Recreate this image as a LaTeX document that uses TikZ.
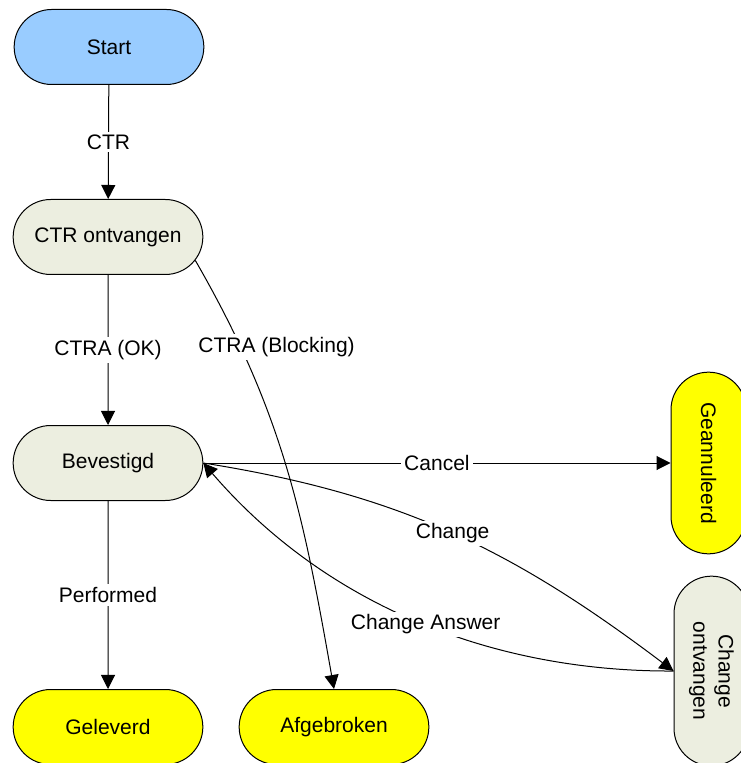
\documentclass[tikz,border=0pt]{standalone}
\usepackage{fontspec}
\setmainfont{Liberation Sans}
\usepackage{tikz}
\usetikzlibrary{shapes.misc,arrows.meta}
\definecolor{startblue}{HTML}{99CCFF}
\definecolor{stategrey}{HTML}{ECEEE0}
\definecolor{endyellow}{HTML}{FFFF00}

\begin{document}
\begin{tikzpicture}[x=0.5pt,y=-0.5pt,
  every node/.style={font=\fontsize{10.5}{12.6}\selectfont},
  state/.style={draw=black, line width=0.5pt, rounded rectangle, minimum width=101.5pt, minimum height=37.5pt, fill=stategrey, align=center},
  endstate/.style={state, fill=endyellow},
  lbl/.style={fill=white, inner sep=1.5pt},
  trans/.style={draw, line width=0.5pt, -{Triangle[length=7pt,width=7pt]}}]

\useasboundingbox (0,0) rectangle (740,763);

\node[state, fill=startblue] (start) at (109,47) {Start};
\node[state] (ctr) at (108,237) {CTR ontvangen};
\node[state] (bev) at (108,463) {Bevestigd};
\node[endstate] (gel) at (108,727) {Geleverd};
\node[endstate] (afg) at (334,727) {Afgebroken};
\node[endstate, minimum width=97.5pt, rotate=-90] (gean) at (708.5,463) {Geannuleerd};
\node[state, rotate=-90] (chg) at (711.5,671) {Change\\ontvangen};

\draw[trans] (start) -- (ctr) node[lbl, midway] {CTR};
\draw[trans] (ctr) -- (bev) node[lbl, midway] {CTRA (OK)};
\draw[trans] (bev) -- (gel) node[lbl, midway] {Performed};
\draw[trans] (ctr.-15) to[out=-60, in=100] node[lbl, pos=0.2, xshift=18pt] {CTRA (Blocking)} (afg.north);

\draw[trans] (bev.east) -- (gean.south) node[lbl, midway] {Cancel};
\draw[trans] (bev.east) to[out=-9, in=143] node[lbl, midway] {Change} (chg.south);
\draw[trans] (chg.south) .. controls (500,672) and (330,610) .. node[lbl, pos=0.49] {Change Answer} (bev.east);

\end{tikzpicture}
\end{document}
